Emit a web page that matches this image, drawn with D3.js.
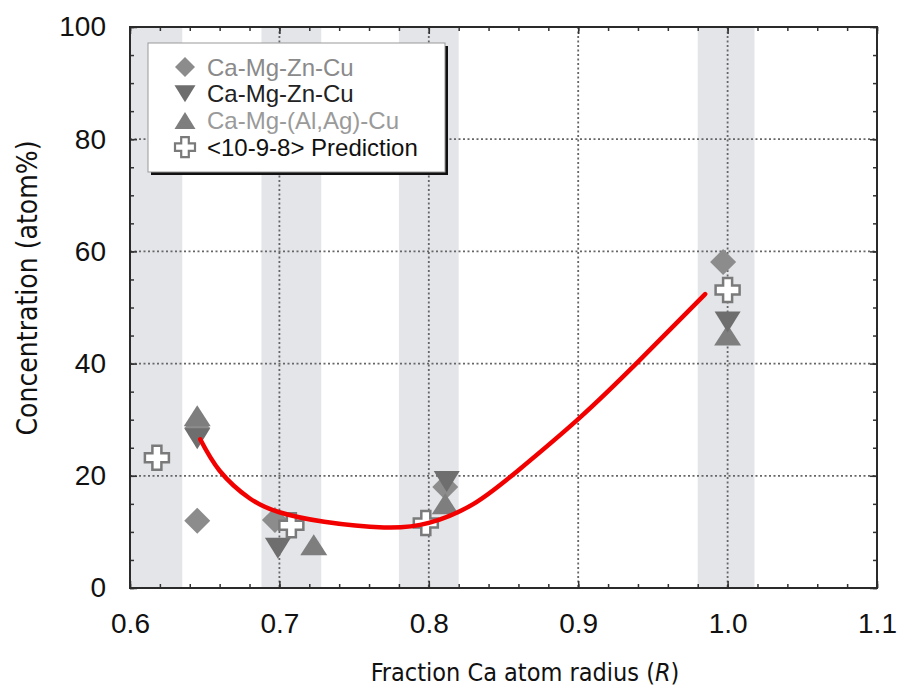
<!DOCTYPE html>
<html>
<head>
<meta charset="utf-8">
<script src="https://cdn.jsdelivr.net/npm/d3@7"></script>
<style>
  body { margin: 0; background: #fff; }
  svg { display: block; }
  .tick text { font-family: "Liberation Sans", Arial, sans-serif; fill: #111; }
  .title { font-family: "Liberation Sans Narrow", "DejaVu Sans Condensed", sans-serif; fill: #111; }
</style>
</head>
<body>
<div id="chart"></div>
<script>
var width = 898,
    height = 689;

// data
var diamondX = [0.645, 0.645, 0.697, 0.811, 0.997],
    diamondY = [28.5, 12.0, 12.1, 18.0, 58.1];
var downX = [0.645, 0.699, 0.812, 1.000],
    downY = [26.6, 7.1, 19.0, 47.4];
var upX = [0.645, 0.723, 0.811, 1.000],
    upY = [30.7, 7.7, 15.0, 45.1];
var plusX = [0.618, 0.708, 0.798, 1.000],
    plusY = [23.2, 11.2, 11.6, 53.1];
var curveX = [0.647, 0.66, 0.68, 0.70, 0.73, 0.77, 0.80, 0.83, 0.86, 0.90, 0.94, 0.985],
    curveY = [26.5, 20.9, 16.0, 13.5, 11.8, 10.8, 11.6, 15.0, 21.0, 30.1, 40.3, 52.4];
var bandStart = [0.600, 0.688, 0.780, 0.980],
    bandEnd   = [0.635, 0.728, 0.820, 1.018];
var xTicks = [0.6, 0.7, 0.8, 0.9, 1.0, 1.1],
    xTickLabels = ["0.6", "0.7", "0.8", "0.9", "1.0", "1.1"];
var yTicks = [0, 20, 40, 60, 80, 100];
var legendNames = ["Ca-Mg-Zn-Cu", "Ca-Mg-Zn-Cu", "Ca-Mg-(Al,Ag)-Cu", "<10-9-8> Prediction"];

var svg = d3.select("#chart")
    .append("svg")
    .attr("width", width)
    .attr("height", height);

var x = d3.scaleLinear().domain([0.6, 1.1]).range([130, 877]);
var y = d3.scaleLinear().domain([0, 100]).range([588, 27]);

var xMinor = d3.range(0.6, 1.1001, 0.02),
    yMinor = d3.range(0, 100.1, 5);

// shapes
function diamond(s) {
  var p = d3.path();
  p.moveTo(0, -s); p.lineTo(s, 0); p.lineTo(0, s); p.lineTo(-s, 0); p.closePath();
  return p.toString();
}
function tri(w, h, dir) {
  var p = d3.path();
  p.moveTo(0, -dir * h / 2); p.lineTo(w / 2, dir * h / 2); p.lineTo(-w / 2, dir * h / 2); p.closePath();
  return p.toString();
}
function plus(r, a) {
  var p = d3.path();
  p.moveTo(-a, -r); p.lineTo(a, -r); p.lineTo(a, -a); p.lineTo(r, -a); p.lineTo(r, a);
  p.lineTo(a, a); p.lineTo(a, r); p.lineTo(-a, r); p.lineTo(-a, a); p.lineTo(-r, a);
  p.lineTo(-r, -a); p.lineTo(-a, -a); p.closePath();
  return p.toString();
}

// gray bands
svg.selectAll(".band")
  .data(bandStart)
  .enter().append("rect")
  .attr("x", function(d) { return x(d); })
  .attr("width", function(d, i) { return x(bandEnd[i]) - x(d); })
  .attr("y", y(100))
  .attr("height", y(0) - y(100))
  .attr("fill", "#e3e5e8");

// dotted grid
svg.selectAll(".vgrid")
  .data(xTicks.slice(1, -1))
  .enter().append("line")
  .attr("x1", function(d) { return x(d); }).attr("x2", function(d) { return x(d); })
  .attr("y1", y(100)).attr("y2", y(0))
  .attr("stroke", "#666").attr("stroke-width", 1.8).attr("stroke-dasharray", "2,2.5");
svg.selectAll(".hgrid")
  .data(yTicks.slice(1, -1))
  .enter().append("line")
  .attr("y1", function(d) { return y(d); }).attr("y2", function(d) { return y(d); })
  .attr("x1", x(0.6)).attr("x2", x(1.1))
  .attr("stroke", "#666").attr("stroke-width", 1.8).attr("stroke-dasharray", "2,2.5");

// markers
var marks = svg.append("g");
marks.selectAll(".dia")
  .data(diamondX)
  .enter().append("path")
  .attr("d", diamond(13))
  .attr("transform", function(d, i) { return "translate(" + x(d) + "," + y(diamondY[i]) + ")"; })
  .attr("fill", "#8c8c8c");
marks.selectAll(".up")
  .data(upX)
  .enter().append("path")
  .attr("d", tri(27, 21, 1))
  .attr("transform", function(d, i) { return "translate(" + x(d) + "," + y(upY[i]) + ")"; })
  .attr("fill", "#7e7e7e");
marks.selectAll(".down")
  .data(downX)
  .enter().append("path")
  .attr("d", tri(26, 21, -1))
  .attr("transform", function(d, i) { return "translate(" + x(d) + "," + y(downY[i]) + ")"; })
  .attr("fill", "#6e6e6e");
marks.selectAll(".plus")
  .data(plusX)
  .enter().append("path")
  .attr("d", plus(12, 4.5))
  .attr("transform", function(d, i) { return "translate(" + x(d) + "," + y(plusY[i]) + ")"; })
  .attr("fill", "#fff").attr("stroke", "#7a7a7a").attr("stroke-width", 2.5);

// red fit curve
var line = d3.line()
  .x(function(d) { return x(d); })
  .y(function(d, i) { return y(curveY[i]); })
  .curve(d3.curveNatural);
svg.append("path")
  .attr("d", line(curveX))
  .attr("fill", "none")
  .attr("stroke", "#f20000")
  .attr("stroke-width", 4.5)
  .attr("stroke-linecap", "round");

// axes, ticks inward on all sides
function styleAxis(g) {
  g.select(".domain").remove();
  g.selectAll(".tick line").attr("stroke", "#333").attr("stroke-width", 1.5);
}
svg.append("g").attr("transform", "translate(0," + y(0) + ")")
  .call(d3.axisBottom(x).tickValues(xMinor).tickSize(-4).tickFormat("")).call(styleAxis);
svg.append("g").attr("transform", "translate(0," + y(0) + ")")
  .call(d3.axisBottom(x).tickValues(xTicks).tickSize(-7).tickPadding(25)
    .tickFormat(function(d, i) { return xTickLabels[i]; }))
  .call(styleAxis)
  .selectAll("text").style("font-size", "28px");
svg.append("g").attr("transform", "translate(0," + y(100) + ")")
  .call(d3.axisTop(x).tickValues(xMinor).tickSize(-4).tickFormat("")).call(styleAxis);
svg.append("g").attr("transform", "translate(0," + y(100) + ")")
  .call(d3.axisTop(x).tickValues(xTicks).tickSize(-7).tickFormat("")).call(styleAxis);

svg.append("g").attr("transform", "translate(" + x(0.6) + ",0)")
  .call(d3.axisLeft(y).tickValues(yMinor).tickSize(-4).tickFormat("")).call(styleAxis);
svg.append("g").attr("transform", "translate(" + x(0.6) + ",0)")
  .call(d3.axisLeft(y).tickValues(yTicks).tickSize(-7).tickPadding(24))
  .call(styleAxis)
  .selectAll("text").style("font-size", "28px");
svg.append("g").attr("transform", "translate(" + x(1.1) + ",0)")
  .call(d3.axisRight(y).tickValues(yMinor).tickSize(-4).tickFormat("")).call(styleAxis);
svg.append("g").attr("transform", "translate(" + x(1.1) + ",0)")
  .call(d3.axisRight(y).tickValues(yTicks).tickSize(-7).tickFormat("")).call(styleAxis);

// frame
svg.append("rect")
  .attr("x", x(0.6)).attr("y", y(100))
  .attr("width", x(1.1) - x(0.6)).attr("height", y(0) - y(100))
  .attr("fill", "none").attr("stroke", "#2a2a2a").attr("stroke-width", 2);

// x axis title, pieces placed side by side so R can be italic
var xt = svg.append("g");
var parts = ["Fraction Ca atom radius (", "R", ")"];
var pieces = xt.selectAll("text")
  .data(parts)
  .enter().append("text")
  .attr("class", "title")
  .attr("y", 681)
  .style("font-size", "25px")
  .style("font-style", function(d, i) { return i == 1 ? "italic" : "normal"; })
  .text(function(d) { return d; });
var widths = [];
pieces.each(function() { widths.push(this.getComputedTextLength()); });
var total = d3.sum(widths), cx = 525 - total / 2;
pieces.attr("x", function(d, i) { return cx + d3.sum(widths.slice(0, i)); });

svg.append("text")
  .attr("class", "title")
  .attr("transform", "translate(37,288) rotate(-90)")
  .attr("text-anchor", "middle")
  .style("font-size", "28px")
  .text("Concentration (atom%)");

// legend
var lg = svg.append("g");
lg.append("rect").attr("x", 151).attr("y", 46).attr("width", 297).attr("height", 129).attr("fill", "#111");
lg.append("rect").attr("x", 148).attr("y", 43).attr("width", 297).attr("height", 129)
  .attr("fill", "#fff").attr("stroke", "#999").attr("stroke-width", 1);

var legendShapes = [diamond(10), tri(21, 17, -1), tri(21, 17, 1), plus(10, 3.8)];
var legendFill = ["#8c8c8c", "#6e6e6e", "#7e7e7e", "#fff"];
var legendText = ["#8a8a8a", "#222", "#9a9a9a", "#111"];

var items = lg.selectAll(".legend")
  .data(legendNames)
  .enter().append("g")
  .attr("transform", function(d, i) { return "translate(185," + (67 + i * 26.7) + ")"; });
items.append("path")
  .attr("d", function(d, i) { return legendShapes[i]; })
  .attr("fill", function(d, i) { return legendFill[i]; })
  .attr("stroke", function(d, i) { return i == 3 ? "#7a7a7a" : "none"; })
  .attr("stroke-width", 2.2);
items.append("text")
  .attr("x", 22).attr("y", 8.5)
  .style("font-family", "'Liberation Sans', Arial, sans-serif")
  .style("font-size", "24px")
  .attr("fill", function(d, i) { return legendText[i]; })
  .text(function(d) { return d; });
</script>
</body>
</html>
